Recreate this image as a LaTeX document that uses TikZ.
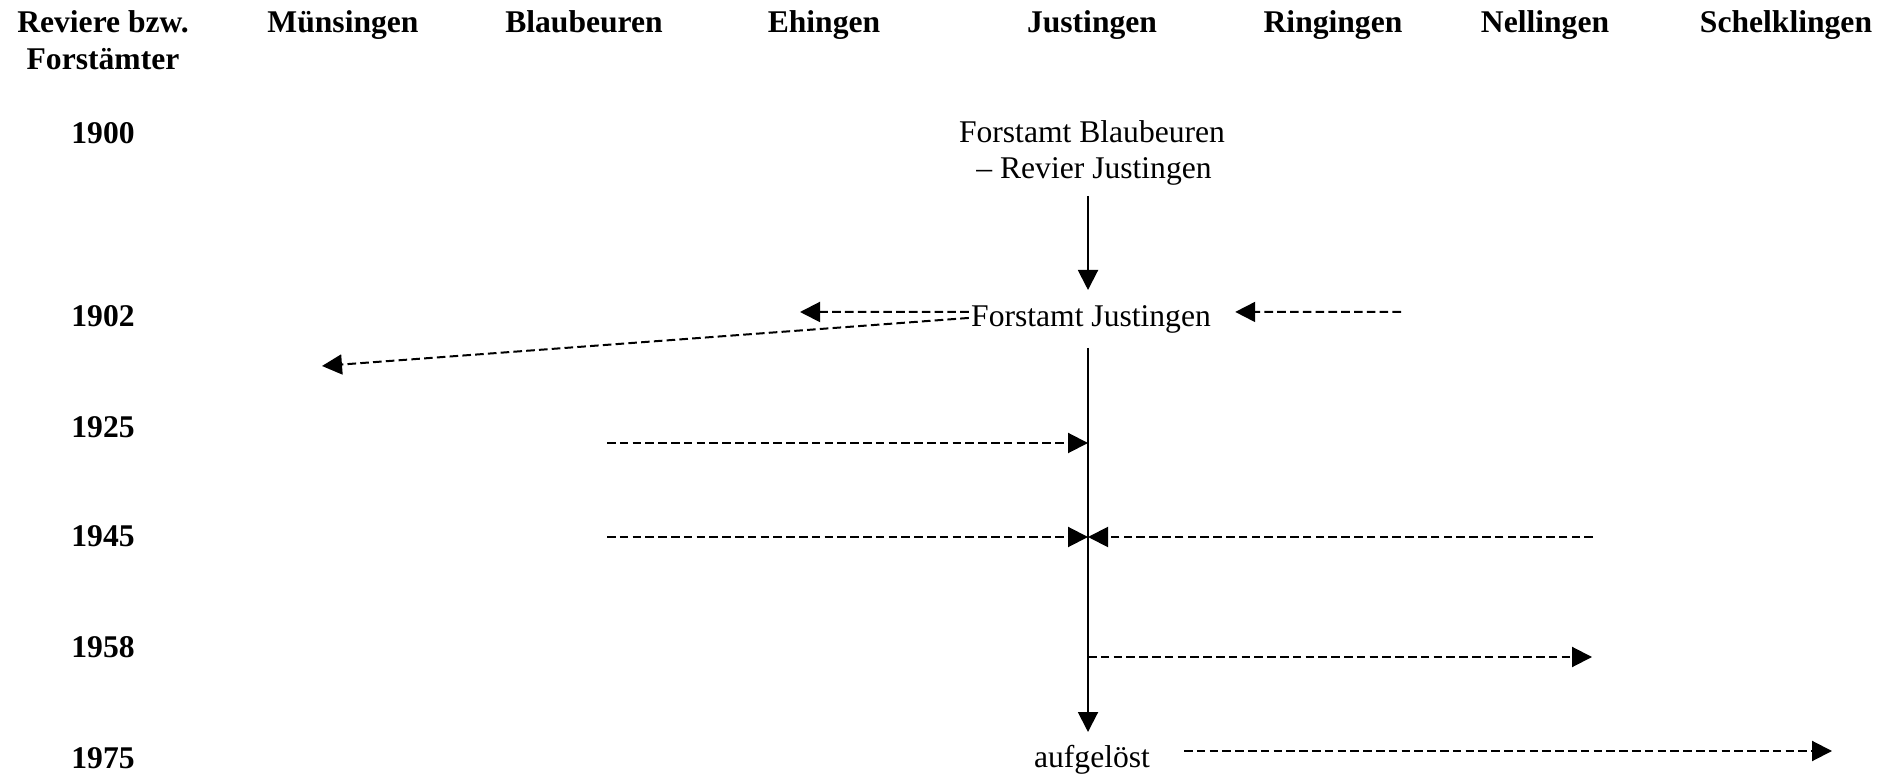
\documentclass[tikz,border=0pt]{standalone}
\usepackage{fontspec}
\setmainfont{Liberation Serif}
\usetikzlibrary{arrows.meta,calc}
\begin{document}
\begin{tikzpicture}[x=0.5pt,y=-0.5pt,
  lbl/.style={inner sep=0pt, anchor=base, font=\fontsize{15.8}{18}\selectfont},
  hdr/.style={inner sep=0pt, anchor=base, font=\fontsize{15.8}{18}\selectfont\bfseries},
  solidarrow/.style={line width=1pt, -{Triangle[length=10pt,width=10pt]}},
  dasharrow/.style={line width=1pt, dash pattern=on 4.3pt off 2.1pt, -{Triangle[length=10pt,width=10pt]}}]
\useasboundingbox (0,0) rectangle (1894,779);

% header row
\node[hdr] (h0a) at (103,33) {Reviere bzw.};
\node[hdr] (h0b) at (103,70) {Forstämter};
\node[hdr] (hMue) at (343,33) {Münsingen};
\node[hdr] (hBla) at (584,33) {Blaubeuren};
\node[hdr] (hEhi) at (824,33) {Ehingen};
\node[hdr] (hJus) at (1092,33) {Justingen};
\node[hdr] (hRin) at (1333,33) {Ringingen};
\node[hdr] (hNel) at (1545,33) {Nellingen};
\node[hdr] (hSch) at (1786,33) {Schelklingen};

% years
\node[hdr] (y1900) at (103,144) {1900};
\node[hdr] (y1902) at (103,327) {1902};
\node[hdr] (y1925) at (103,438) {1925};
\node[hdr] (y1945) at (103,547) {1945};
\node[hdr] (y1958) at (103,658) {1958};
\node[hdr] (y1975) at (103,768) {1975};

% entries
\node[lbl] (fb1) at (1092,143) {Forstamt Blaubeuren};
\node[lbl] (fb2) at (1094,179) {– Revier Justingen};
\node[lbl] (fj) at (1091,327) {Forstamt Justingen};
\node[lbl] (auf) at (1092,767) {aufgelöst};

% coordinates
\coordinate (top1) at (1088,196);
\coordinate (top2) at (1088,290);
\coordinate (main1) at (1088,348);
\coordinate (main2) at (1088,732);
\coordinate (ehi) at (800,312);
\coordinate (mue) at (322,366);
\coordinate (rin) at (1401,312);
\coordinate (bla1925) at (607,443);
\coordinate (ax1925) at (1088,443);
\coordinate (bla1945) at (607,537);
\coordinate (nel1945) at (1593,537);
\coordinate (ax1945) at (1088,537);
\coordinate (ax1958) at (1088,657);
\coordinate (nel1958) at (1592,657);
\coordinate (auf1975) at (1184,751);
\coordinate (sch1975) at (1832,751);

% solid flow
\draw[solidarrow] (top1) -- (top2);
\draw[solidarrow] (main1) -- (main2);

% 1902
\draw[dasharrow] ($(fj.west)+(-2,-8)$) -- (ehi);
\draw[dasharrow] ($(fj.west)+(-2,-2)$) -- (mue);
\draw[dasharrow] (rin) -- ($(fj.east)+(24,-8)$);

% 1925
\draw[dasharrow] (bla1925) -- (ax1925);
% 1945
\draw[dasharrow] (bla1945) -- (ax1945);
\draw[dasharrow] (nel1945) -- (ax1945);
% 1958
\draw[dasharrow] (ax1958) -- (nel1958);
% 1975
\draw[dasharrow] (auf1975) -- (sch1975);
\end{tikzpicture}
\end{document}
